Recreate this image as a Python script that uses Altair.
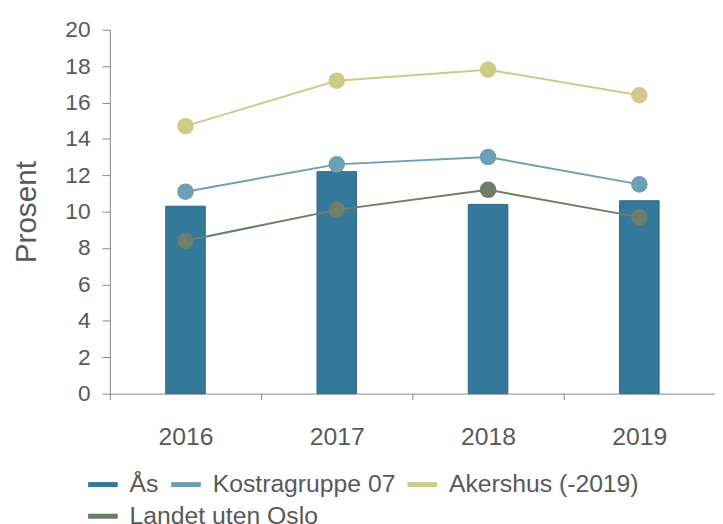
import altair as alt
import pandas as pd

years = ["2016", "2017", "2018", "2019"]
series_names = ["Ås", "Kostragruppe 07", "Akershus (-2019)", "Landet uten Oslo"]
aas = [10.3, 12.2, 10.4, 10.6]
kostra = [11.1, 12.6, 13.0, 11.5]
akershus = [14.7, 17.2, 17.8, 16.4]
landet = [8.4, 10.1, 11.2, 9.7]
colors = ["#35799a", "#6da0b3", "#cccc88", "#6e7e6a"]
y_ticks = [0, 2, 4, 6, 8, 10, 12, 14, 16, 18, 20]

rows = []
for name, vals in zip(series_names, [aas, kostra, akershus, landet]):
    for yr, v in zip(years, vals):
        rows.append({"Year": yr, "Series": name, "Value": v})
df = pd.DataFrame(rows)

FONT = "Liberation Sans"
GREY = "#595959"
AXIS_GREY = "#888888"
SYMBOL = "M-1,-0.17H1V0.17H-1Z"

color_scale = alt.Scale(domain=series_names[:3], range=colors[:3])
landet_scale = alt.Scale(domain=series_names[3:], range=colors[3:])

legend_common = dict(
    title=None, orient="none", direction="horizontal",
    symbolType=SYMBOL, symbolSize=900, symbolStrokeWidth=0, symbolOpacity=1,
    labelFontSize=25, labelColor=GREY, labelFont=FONT,
    columnPadding=12, labelOffset=12, labelLimit=400,
)

x_enc = alt.X("Year:N", sort=years, title=None,
              scale=alt.Scale(paddingInner=0, paddingOuter=0),
              axis=alt.Axis(labelAngle=0, tickBand="extent", labelPadding=25,
                            tickSize=6, labelFontSize=25, domainColor=AXIS_GREY,
                            tickColor=AXIS_GREY))
y_enc = alt.Y("Value:Q", title="Prosent",
              scale=alt.Scale(domain=[0, 20], nice=False),
              axis=alt.Axis(values=y_ticks, grid=False, tickSize=8, labelPadding=12,
                            labelFontSize=23, titleFontSize=30, titleFontWeight="normal",
                            titlePadding=24, domainColor=AXIS_GREY, tickColor=AXIS_GREY))

bars = alt.Chart(df).transform_filter(alt.datum.Series == "Ås").mark_bar(
    size=40, stroke="#2a6886", strokeWidth=1
).encode(
    x=x_enc, y=y_enc,
    color=alt.Color("Series:N", scale=color_scale, sort=series_names[:3],
                    legend=alt.Legend(legendX=-22, legendY=445, **legend_common)),
)

main_lines = alt.Chart(df).transform_filter(
    alt.FieldOneOfPredicate(field="Series", oneOf=series_names[1:3])
)
lines = main_lines.mark_line(strokeWidth=2).encode(
    x=x_enc, y=y_enc,
    color=alt.Color("Series:N", scale=color_scale, legend=None),
)
points = main_lines.mark_circle(size=280, opacity=1).encode(
    x=x_enc, y=y_enc,
    color=alt.Color("Series:N", scale=color_scale, legend=None),
)

landet_data = alt.Chart(df).transform_filter(alt.datum.Series == "Landet uten Oslo")
landet_line = landet_data.mark_line(strokeWidth=2, color=colors[3]).encode(
    x=x_enc, y=y_enc,
)
landet_points = landet_data.mark_circle(size=280, opacity=1).encode(
    x=x_enc, y=y_enc,
    fill=alt.Fill("Series:N", scale=landet_scale,
                  legend=alt.Legend(legendX=-22, legendY=477, **legend_common)),
)

chart = alt.layer(bars, lines, landet_line, points, landet_points).properties(
    width=612, height=368,
    autosize=alt.AutoSizeParams(type="none"),
    padding={"left": 103, "top": 19, "right": 0, "bottom": 140},
).configure_view(stroke=None).configure_axis(
    labelFont=FONT, titleFont=FONT, labelColor=GREY, titleColor=GREY
)

chart.save("out.html", embed_options={"renderer": "svg", "actions": False})
